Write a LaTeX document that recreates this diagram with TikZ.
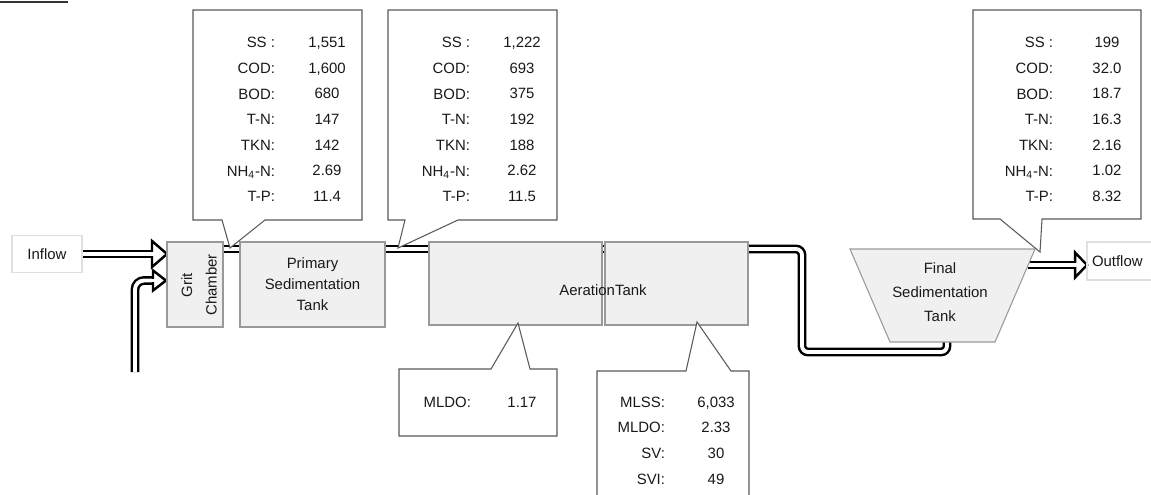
\documentclass[tikz,border=0pt]{standalone}
\usepackage{fontspec}
\setmainfont{Liberation Sans}
\usetikzlibrary{calc,backgrounds}
\newlength{\pu}
\setlength{\pu}{0.02cm}
% hollow head for a double pipe: tip, length, half width
\newcommand{\flowhead}[3]{%
	\draw[line width=1.4pt, fill=white, line join=miter] ($(#1)+(-#2,-#3)$) -- (#1) -- ($(#1)+(-#2,#3)$) -- cycle;
	\draw[white, line width=2.2pt] ($(#1)+(-#2-3,0)$) -- ($(#1)+(-#2+3,0)$);}

\begin{document}
\begin{tikzpicture}[x=\pu, y=-\pu, every node/.style={font=\fontsize{8.5}{14.6}\selectfont, text=black!90, inner sep=0pt, outer sep=0pt}, tank/.style={draw=black!40, fill=black!6, line width=0.6pt, align=center}, pipe/.style={draw, double, line width=1.4pt, double distance=2.2pt}, callout/.style={draw=black!65, fill=white, line width=0.6pt}, flowbox/.style={draw=black!12, line width=0.6pt}]
	\useasboundingbox (0,0) rectangle (1151,494);
	\clip (0,0) rectangle (1151,494);
	\draw[black!80, line width=1pt] (0,2) -- (68,2);

	% plant units
	\node[flowbox, minimum width=70\pu, minimum height=37\pu] (inflow) at (47,254) {Inflow};
	\node[tank, minimum width=56\pu, minimum height=85\pu] (grit) at (195,284.5) {};
	\node[rotate=90, align=center, font=\fontsize{8.5}{14}\selectfont] (gritlbl) at (199,285) {Grit\\Chamber};
	\node[tank, minimum width=145\pu, minimum height=85\pu, font=\fontsize{8.5}{12}\selectfont] (prim) at (312.5,284.5) {Primary\\Sedimentation\\Tank};
	\node[tank, minimum width=173\pu, minimum height=83\pu] (aer1) at (515.5,283.5) {};
	\node[tank, minimum width=143\pu, minimum height=83\pu] (aer2) at (676.5,283.5) {};
	\node (aer) at (603,290) {AerationTank};
	\coordinate (ftl) at (850,249);
	\coordinate (ftr) at (1035,249);
	\coordinate (fbr) at (995,342);
	\coordinate (fbl) at (890,342);
	\draw[tank] (ftl) -- (ftr) -- (fbr) -- (fbl) -- cycle;
	\node[align=center, font=\fontsize{8.5}{13.5}\selectfont] (final) at (940,292) {Final\\Sedimentation\\Tank};
	\node[flowbox, anchor=west, minimum height=38\pu, text width=65\pu, inner xsep=5\pu, align=left] (outflow) at (1087,261) {Outflow};

	% pipes
	\coordinate (feed) at (135,372);
	\coordinate (bend) at (802,352);
	\coordinate (fin-in) at (947,342);
	\coordinate (fin-out) at (1028,265);
	\coordinate (in-tip) at (inflow.east -| grit.west);
	\coordinate (feed-tip) at ($(grit.west)+(-1,-4)$);
	\coordinate (out-tip) at (fin-out -| outflow.west);
	\begin{scope}[on background layer]
		\draw[pipe] (inflow.east) -- ($(in-tip)+(-15,0)$);
		\flowhead{in-tip}{15}{13}
		\draw[pipe, rounded corners=9\pu] (feed) |- ($(feed-tip)+(-13,0)$);
		\flowhead{feed-tip}{13}{10}
		\draw[pipe] ($(grit.north east)+(0,7)$) -- ($(prim.north west)+(0,7)$);
		\draw[pipe] ($(prim.north east)+(0,7)$) -- ($(aer2.north west)+(0,7)$);
		\draw[pipe, rounded corners=6\pu] ($(aer2.north east)+(0,7)$) -| (bend) -| (fin-in);
		\draw[pipe] (fin-out) -- ($(out-tip)+(-12,0)$);
		\flowhead{out-tip}{12}{12.5}
	\end{scope}

	% water quality callouts
	\foreach \xa/\xb/\yb/\pl/\pr/\tx/\ty in {193/362/220/222/265/230/248, 388/557/220/405/458/398/248, 973/1141/219/1000/1042/1040/252}
		{\draw[callout] (\xa,10) -- (\xb,10) -- (\xb,\yb) -- (\pr,\yb) -- (\tx,\ty) -- (\pl,\yb) -- (\xa,\yb) -- cycle;}
	\draw[callout] (399,369) -- (491,369) -- (518,323) -- (530,369) -- (557,369) -- (557,436) -- (399,436) -- cycle;
	\draw[callout] (597,371) -- (686,371) -- (697,322) -- (731,371) -- (749,371) -- (749,510) -- (597,510) -- cycle;

	\node[anchor=east, align=right] (grit-lab) at (275,119.5) {SS :\\COD:\\BOD:\\T-N:\\TKN:\\NH\textsubscript{4}-N:\\T-P:};
	\node[align=center] (grit-val) at (327,119.5) {1,551\\1,600\\680\\147\\142\\2.69\\11.4};
	\node[anchor=east, align=right] (prim-lab) at (470,119.5) {SS :\\COD:\\BOD:\\T-N:\\TKN:\\NH\textsubscript{4}-N:\\T-P:};
	\node[align=center] (prim-val) at (522,119.5) {1,222\\693\\375\\192\\188\\2.62\\11.5};
	\node[anchor=east, align=right] (fin-lab) at (1053,119.5) {SS :\\COD:\\BOD:\\T-N:\\TKN:\\NH\textsubscript{4}-N:\\T-P:};
	\node[align=center] (fin-val) at (1107,119.5) {199\\32.0\\18.7\\16.3\\2.16\\1.02\\8.32};
	\node[anchor=east] (aer1-lab) at (471,402) {MLDO:};
	\node (aer1-val) at (522,402) {1.17};
	\node[anchor=east, align=right] (aer2-lab) at (665,440.5) {MLSS:\\MLDO:\\SV:\\SVI:};
	\node[align=center] (aer2-val) at (716,440.5) {6,033\\2.33\\30\\49};
\end{tikzpicture}
\end{document}
